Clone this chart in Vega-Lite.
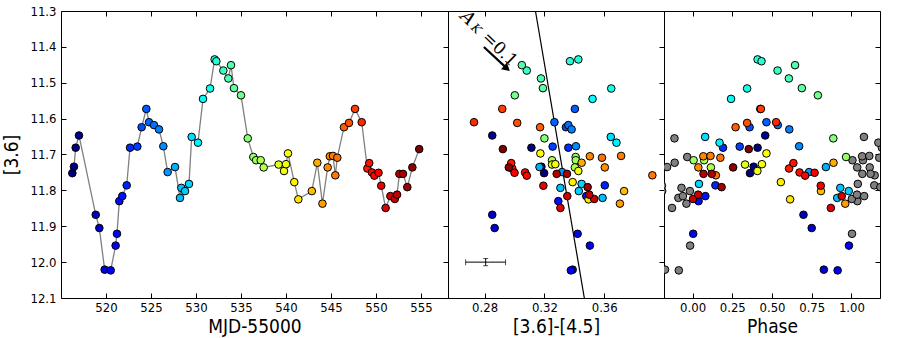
{
  "$schema": "https://vega.github.io/schema/vega-lite/v6.json",
  "background": "white",
  "padding": {"left": 2, "top": 4, "right": 18, "bottom": 0},
  "spacing": 0,
  "bounds": "flush",
  "datasets": {
    "obs": [
      {"t":516.26,"m":11.752,"c":0.3198,"p":0.3614},
      {"t":516.44,"m":11.734,"c":0.318,"p":0.3847},
      {"t":516.63,"m":11.681,"c":0.3113,"p":0.4093},
      {"t":517.0,"m":11.647,"c":0.2851,"p":0.4573},
      {"t":518.86,"m":11.868,"c":0.2851,"p":0.6982},
      {"t":519.26,"m":11.905,"c":0.2867,"p":0.75},
      {"t":519.85,"m":12.021,"c":0.3389,"p":0.8264},
      {"t":520.52,"m":12.023,"c":0.3377,"p":0.9132},
      {"t":521.07,"m":11.954,"c":0.3504,"p":0.9845},
      {"t":521.22,"m":11.921,"c":0.3422,"p":0.0039},
      {"t":521.48,"m":11.83,"c":0.3293,"p":0.0376},
      {"t":521.81,"m":11.816,"c":0.348,"p":0.0803},
      {"t":522.3,"m":11.786,"c":0.3604,"p":0.1438},
      {"t":522.67,"m":11.681,"c":0.336,"p":0.1917},
      {"t":523.48,"m":11.678,"c":0.3255,"p":0.2966},
      {"t":523.96,"m":11.624,"c":0.3344,"p":0.3588},
      {"t":524.48,"m":11.573,"c":0.3404,"p":0.4262},
      {"t":524.78,"m":11.61,"c":0.3267,"p":0.465},
      {"t":525.33,"m":11.618,"c":0.336,"p":0.5363},
      {"t":525.89,"m":11.63,"c":0.3382,"p":0.6088},
      {"t":526.37,"m":11.677,"c":0.3411,"p":0.671},
      {"t":526.85,"m":11.749,"c":0.3318,"p":0.7332},
      {"t":527.67,"m":11.735,"c":0.3167,"p":0.8394},
      {"t":528.22,"m":11.821,"c":0.3589,"p":0.9106},
      {"t":528.37,"m":11.793,"c":0.3307,"p":0.9301},
      {"t":528.78,"m":11.802,"c":0.343,"p":0.9832},
      {"t":529.22,"m":11.782,"c":0.3449,"p":0.0402},
      {"t":529.52,"m":11.651,"c":0.3644,"p":0.079},
      {"t":530.22,"m":11.667,"c":0.3682,"p":0.1697},
      {"t":530.78,"m":11.545,"c":0.3522,"p":0.2422},
      {"t":531.56,"m":11.516,"c":0.3647,"p":0.3433},
      {"t":532.07,"m":11.435,"c":0.3427,"p":0.4093},
      {"t":532.26,"m":11.44,"c":0.3371,"p":0.4339},
      {"t":533.04,"m":11.466,"c":0.3082,"p":0.535},
      {"t":533.59,"m":11.488,"c":0.3177,"p":0.6062},
      {"t":533.89,"m":11.451,"c":0.3049,"p":0.6451},
      {"t":534.22,"m":11.515,"c":0.319,"p":0.6878},
      {"t":535.0,"m":11.535,"c":0.3002,"p":0.7889},
      {"t":535.75,"m":11.655,"c":0.32,"p":0.886},
      {"t":536.37,"m":11.707,"c":0.3409,"p":0.9663},
      {"t":536.68,"m":11.716,"c":0.341,"p":0.0065},
      {"t":537.19,"m":11.716,"c":0.3251,"p":0.0725},
      {"t":537.52,"m":11.736,"c":0.3404,"p":0.1153},
      {"t":539.18,"m":11.728,"c":0.3251,"p":0.3303},
      {"t":539.78,"m":11.746,"c":0.3427,"p":0.408},
      {"t":540.0,"m":11.727,"c":0.3273,"p":0.4365},
      {"t":540.22,"m":11.697,"c":0.3173,"p":0.465},
      {"t":540.92,"m":11.777,"c":0.3389,"p":0.5557},
      {"t":541.37,"m":11.825,"c":0.3495,"p":0.614},
      {"t":542.87,"m":11.802,"c":0.3733,"p":0.8083},
      {"t":543.48,"m":11.723,"c":0.3449,"p":0.8873},
      {"t":544.05,"m":11.837,"c":0.3705,"p":0.9611},
      {"t":544.63,"m":11.736,"c":0.3604,"p":0.0363},
      {"t":544.87,"m":11.705,"c":0.3504,"p":0.0674},
      {"t":545.22,"m":11.704,"c":0.3713,"p":0.1127},
      {"t":545.48,"m":11.758,"c":0.3922,"p":0.1464},
      {"t":545.7,"m":11.709,"c":0.3585,"p":0.1749},
      {"t":546.44,"m":11.624,"c":0.3171,"p":0.2707},
      {"t":547.0,"m":11.612,"c":0.3018,"p":0.3433},
      {"t":547.67,"m":11.573,"c":0.2918,"p":0.4301},
      {"t":548.41,"m":11.61,"c":0.2729,"p":0.5259},
      {"t":549.04,"m":11.739,"c":0.2985,"p":0.6075},
      {"t":549.25,"m":11.724,"c":0.2978,"p":0.6347},
      {"t":549.55,"m":11.75,"c":0.3071,"p":0.6736},
      {"t":549.82,"m":11.759,"c":0.3082,"p":0.7086},
      {"t":550.28,"m":11.751,"c":0.3,"p":0.7681},
      {"t":550.58,"m":11.787,"c":0.3193,"p":0.807},
      {"t":551.07,"m":11.849,"c":0.3307,"p":0.8705},
      {"t":551.6,"m":11.816,"c":0.3353,"p":0.9391},
      {"t":552.09,"m":11.824,"c":0.3533,"p":0.0026},
      {"t":552.34,"m":11.812,"c":0.35,"p":0.035},
      {"t":552.6,"m":11.754,"c":0.3282,"p":0.0687},
      {"t":553.0,"m":11.754,"c":0.3351,"p":0.1205},
      {"t":553.48,"m":11.791,"c":0.3489,"p":0.1826},
      {"t":554.04,"m":11.736,"c":0.2962,"p":0.2552},
      {"t":554.8,"m":11.685,"c":0.2922,"p":0.3536}
    ],
    "gray": [
      {"p":-0.1736,"m":12.021},{"p":-0.0868,"m":12.023},{"p":-0.0155,"m":11.954},
      {"p":-0.1606,"m":11.735},{"p":-0.0894,"m":11.821},{"p":-0.0699,"m":11.793},
      {"p":-0.0168,"m":11.802},{"p":-0.114,"m":11.655},{"p":-0.0337,"m":11.707},
      {"p":-0.1917,"m":11.802},{"p":-0.1127,"m":11.723},{"p":-0.0389,"m":11.837},
      {"p":-0.193,"m":11.787},{"p":-0.1295,"m":11.849},{"p":-0.0609,"m":11.816},
      {"p":1.0039,"m":11.921},{"p":1.0376,"m":11.83},{"p":1.0803,"m":11.816},
      {"p":1.1438,"m":11.786},{"p":1.1917,"m":11.681},{"p":1.0402,"m":11.782},
      {"p":1.079,"m":11.651},{"p":1.1697,"m":11.667},{"p":1.0065,"m":11.716},
      {"p":1.0725,"m":11.716},{"p":1.1153,"m":11.736},{"p":1.0363,"m":11.736},
      {"p":1.0674,"m":11.705},{"p":1.1127,"m":11.704},{"p":1.1464,"m":11.758},
      {"p":1.1749,"m":11.709},{"p":1.0026,"m":11.824},{"p":1.035,"m":11.812},
      {"p":1.0687,"m":11.754},{"p":1.1205,"m":11.754},{"p":1.1826,"m":11.791}
    ],
    "redline": [{"c":0.314,"m":11.3,"c2":0.3467,"m2":12.1}],
    "arrow": [{"c":0.2795,"m":11.4004,"c2":0.2949,"m2":11.46}],
    "head": [{"c":0.2949,"m":11.46}],
    "err": [{"c":0.2807,"m":12.0,"clo":0.2673,"chi":0.294,"mlo":11.99,"mhi":12.01}],
    "errcapx": [{"c":0.2673,"m":12.0},{"c":0.294,"m":12.0}],
    "errcapy": [{"c":0.2807,"m":11.99},{"c":0.2807,"m":12.01}],
    "lblA": [{"c":0.2684,"m":11.3204,"txt":"A"}],
    "lblK": [{"c":0.2744,"m":11.3494,"txt":"K"}],
    "lblEq": [{"c":0.29,"m":11.4069,"txt":"=0.1"}]
  },
  "hconcat": [
    {
      "width": 387, "height": 287,
      "data": {"name": "obs"},
      "layer": [
        {
          "mark": {"type": "line", "color": "#808080", "strokeWidth": 1.3},
          "encoding": {
            "x": {"field": "t", "type": "quantitative", "scale": {"domain": [515, 558], "nice": false, "zero": false},
                  "axis": {"orient": "bottom", "values": [520,525,530,535,540,545,550,555], "title": "MJD-55000"}},
            "y": {"field": "m", "type": "quantitative", "scale": {"domain": [11.3, 12.1], "reverse": true, "nice": false, "zero": false},
                  "axis": {"orient": "left", "values": [11.3,11.4,11.5,11.6,11.7,11.8,11.9,12.0,12.1], "format": ".1f", "title": "[3.6]"}}
          }
        },
        {
          "mark": {"type": "circle", "size": 58, "stroke": "black", "strokeWidth": 1, "opacity": 1},
          "encoding": {
            "x": {"field": "t", "type": "quantitative", "scale": {"domain": [515, 558], "nice": false, "zero": false},
                  "axis": {"orient": "top", "values": [520,525,530,535,540,545,550,555], "labels": false, "title": null}},
            "y": {"field": "m", "type": "quantitative", "scale": {"domain": [11.3, 12.1], "reverse": true, "nice": false, "zero": false},
                  "axis": {"orient": "right", "values": [11.3,11.4,11.5,11.6,11.7,11.8,11.9,12.0,12.1], "labels": false, "title": null}},
            "color": {"field": "t", "type": "quantitative", "legend": null,
                      "scale": {"domain": [516.26,521.08,525.895,530.71,535.53,540.35,545.165,549.98,554.8],
                                "range": ["#00007f","#0000ff","#007fff","#00ffff","#7fff7f","#ffff00","#ff7f00","#ff0000","#7f0000"],
                                "interpolate": "rgb"}}
          }
        }
      ],
      "resolve": {"axis": {"x": "independent", "y": "independent"}}
    },
    {
      "width": 216, "height": 287,
      "layer": [
        {
          "data": {"name": "redline"},
          "mark": {"type": "rule", "color": "black", "strokeWidth": 1.2, "clip": true},
          "encoding": {
            "x": {"field": "c", "type": "quantitative", "scale": {"domain": [0.2555, 0.40], "nice": false, "zero": false},
                  "axis": {"orient": "bottom", "values": [0.28, 0.32, 0.36], "format": ".2f", "title": "[3.6]-[4.5]"}},
            "x2": {"field": "c2"},
            "y": {"field": "m", "type": "quantitative", "scale": {"domain": [11.3, 12.1], "reverse": true, "nice": false, "zero": false},
                  "axis": {"orient": "right", "values": [11.3,11.4,11.5,11.6,11.7,11.8,11.9,12.0,12.1], "labels": false, "title": null}},
            "y2": {"field": "m2"}
          }
        },
        {
          "data": {"name": "arrow"},
          "mark": {"type": "rule", "color": "black", "strokeWidth": 2.2},
          "encoding": {
            "x": {"field": "c", "type": "quantitative", "axis": null},
            "x2": {"field": "c2"},
            "y": {"field": "m", "type": "quantitative", "axis": null},
            "y2": {"field": "m2"}
          }
        },
        {
          "data": {"name": "head"},
          "mark": {"type": "point", "shape": "triangle-right", "filled": true, "color": "black", "size": 80, "angle": 41, "opacity": 1},
          "encoding": {
            "x": {"field": "c", "type": "quantitative", "axis": null},
            "y": {"field": "m", "type": "quantitative", "axis": null}
          }
        },
        {
          "data": {"name": "lblA"},
          "mark": {"type": "text", "font": "DejaVu Serif", "fontStyle": "italic", "fontSize": 18, "angle": 44, "align": "center", "baseline": "middle", "color": "black", "clip": true},
          "encoding": {
            "x": {"field": "c", "type": "quantitative", "axis": null},
            "y": {"field": "m", "type": "quantitative", "axis": null},
            "text": {"field": "txt"}
          }
        },
        {
          "data": {"name": "lblK"},
          "mark": {"type": "text", "font": "DejaVu Serif", "fontStyle": "italic", "fontSize": 12, "angle": 44, "align": "center", "baseline": "middle", "color": "black", "clip": true},
          "encoding": {
            "x": {"field": "c", "type": "quantitative", "axis": null},
            "y": {"field": "m", "type": "quantitative", "axis": null},
            "text": {"field": "txt"}
          }
        },
        {
          "data": {"name": "lblEq"},
          "mark": {"type": "text", "font": "DejaVu Serif", "fontSize": 17, "angle": 44, "align": "center", "baseline": "middle", "color": "black", "clip": true},
          "encoding": {
            "x": {"field": "c", "type": "quantitative", "axis": null},
            "y": {"field": "m", "type": "quantitative", "axis": null},
            "text": {"field": "txt"}
          }
        },
        {
          "data": {"name": "err"},
          "mark": {"type": "rule", "color": "black", "strokeWidth": 1},
          "encoding": {
            "x": {"field": "clo", "type": "quantitative", "axis": null},
            "x2": {"field": "chi"},
            "y": {"field": "m", "type": "quantitative", "axis": null}
          }
        },
        {
          "data": {"name": "err"},
          "mark": {"type": "rule", "color": "black", "strokeWidth": 1},
          "encoding": {
            "x": {"field": "c", "type": "quantitative", "axis": null},
            "y": {"field": "mlo", "type": "quantitative", "axis": null},
            "y2": {"field": "mhi"}
          }
        },
        {
          "data": {"name": "errcapx"},
          "mark": {"type": "tick", "orient": "vertical", "color": "black", "size": 6, "thickness": 1},
          "encoding": {
            "x": {"field": "c", "type": "quantitative", "axis": null},
            "y": {"field": "m", "type": "quantitative", "axis": null}
          }
        },
        {
          "data": {"name": "errcapy"},
          "mark": {"type": "tick", "orient": "horizontal", "color": "black", "size": 5, "thickness": 1},
          "encoding": {
            "x": {"field": "c", "type": "quantitative", "axis": null},
            "y": {"field": "m", "type": "quantitative", "axis": null}
          }
        },
        {
          "data": {"name": "obs"},
          "mark": {"type": "circle", "size": 58, "stroke": "black", "strokeWidth": 1, "opacity": 1, "clip": true},
          "encoding": {
            "x": {"field": "c", "type": "quantitative",
                  "axis": {"orient": "top", "values": [0.28, 0.32, 0.36], "labels": false, "title": null}},
            "y": {"field": "m", "type": "quantitative", "axis": null},
            "color": {"field": "t", "type": "quantitative", "legend": null,
                      "scale": {"domain": [516.26,521.08,525.895,530.71,535.53,540.35,545.165,549.98,554.8],
                                "range": ["#00007f","#0000ff","#007fff","#00ffff","#7fff7f","#ffff00","#ff7f00","#ff0000","#7f0000"],
                                "interpolate": "rgb"}}
          }
        }
      ],
      "resolve": {"axis": {"x": "independent", "y": "independent"}}
    },
    {
      "width": 216, "height": 287,
      "layer": [
        {
          "data": {"name": "gray"},
          "mark": {"type": "circle", "size": 58, "color": "#808080", "stroke": "black", "strokeWidth": 1, "opacity": 1, "clip": true},
          "encoding": {
            "x": {"field": "p", "type": "quantitative", "scale": {"domain": [-0.18, 1.18], "nice": false, "zero": false},
                  "axis": {"orient": "bottom", "values": [0, 0.25, 0.5, 0.75, 1.0], "format": ".2f", "title": "Phase"}},
            "y": {"field": "m", "type": "quantitative", "scale": {"domain": [11.3, 12.1], "reverse": true, "nice": false, "zero": false},
                  "axis": {"orient": "right", "values": [11.3,11.4,11.5,11.6,11.7,11.8,11.9,12.0,12.1], "labels": false, "title": null}}
          }
        },
        {
          "data": {"name": "obs"},
          "mark": {"type": "circle", "size": 58, "stroke": "black", "strokeWidth": 1, "opacity": 1, "clip": true},
          "encoding": {
            "x": {"field": "p", "type": "quantitative",
                  "axis": {"orient": "top", "values": [0, 0.25, 0.5, 0.75, 1.0], "labels": false, "title": null}},
            "y": {"field": "m", "type": "quantitative", "axis": null},
            "color": {"field": "t", "type": "quantitative", "legend": null,
                      "scale": {"domain": [516.26,521.08,525.895,530.71,535.53,540.35,545.165,549.98,554.8],
                                "range": ["#00007f","#0000ff","#007fff","#00ffff","#7fff7f","#ffff00","#ff7f00","#ff0000","#7f0000"],
                                "interpolate": "rgb"}}
          }
        }
      ],
      "resolve": {"axis": {"x": "independent", "y": "independent"}}
    }
  ],
  "config": {
    "view": {"stroke": "black", "strokeWidth": 1},
    "axis": {
      "domain": false, "grid": false,
      "tickColor": "black", "tickSize": -5, "tickWidth": 1,
      "labelColor": "black", "labelFont": "DejaVu Sans Condensed, DejaVu Sans", "labelFontSize": 13,
      "labelOverlap": false, "labelFlush": false,
      "titleColor": "black", "titleFont": "DejaVu Sans Condensed, DejaVu Sans", "titleFontSize": 19, "titleFontWeight": "normal"
    },
    "axisX": {"titlePadding": 3, "labelPadding": 8},
    "axisY": {"titlePadding": 8, "labelPadding": 10}
  }
}
